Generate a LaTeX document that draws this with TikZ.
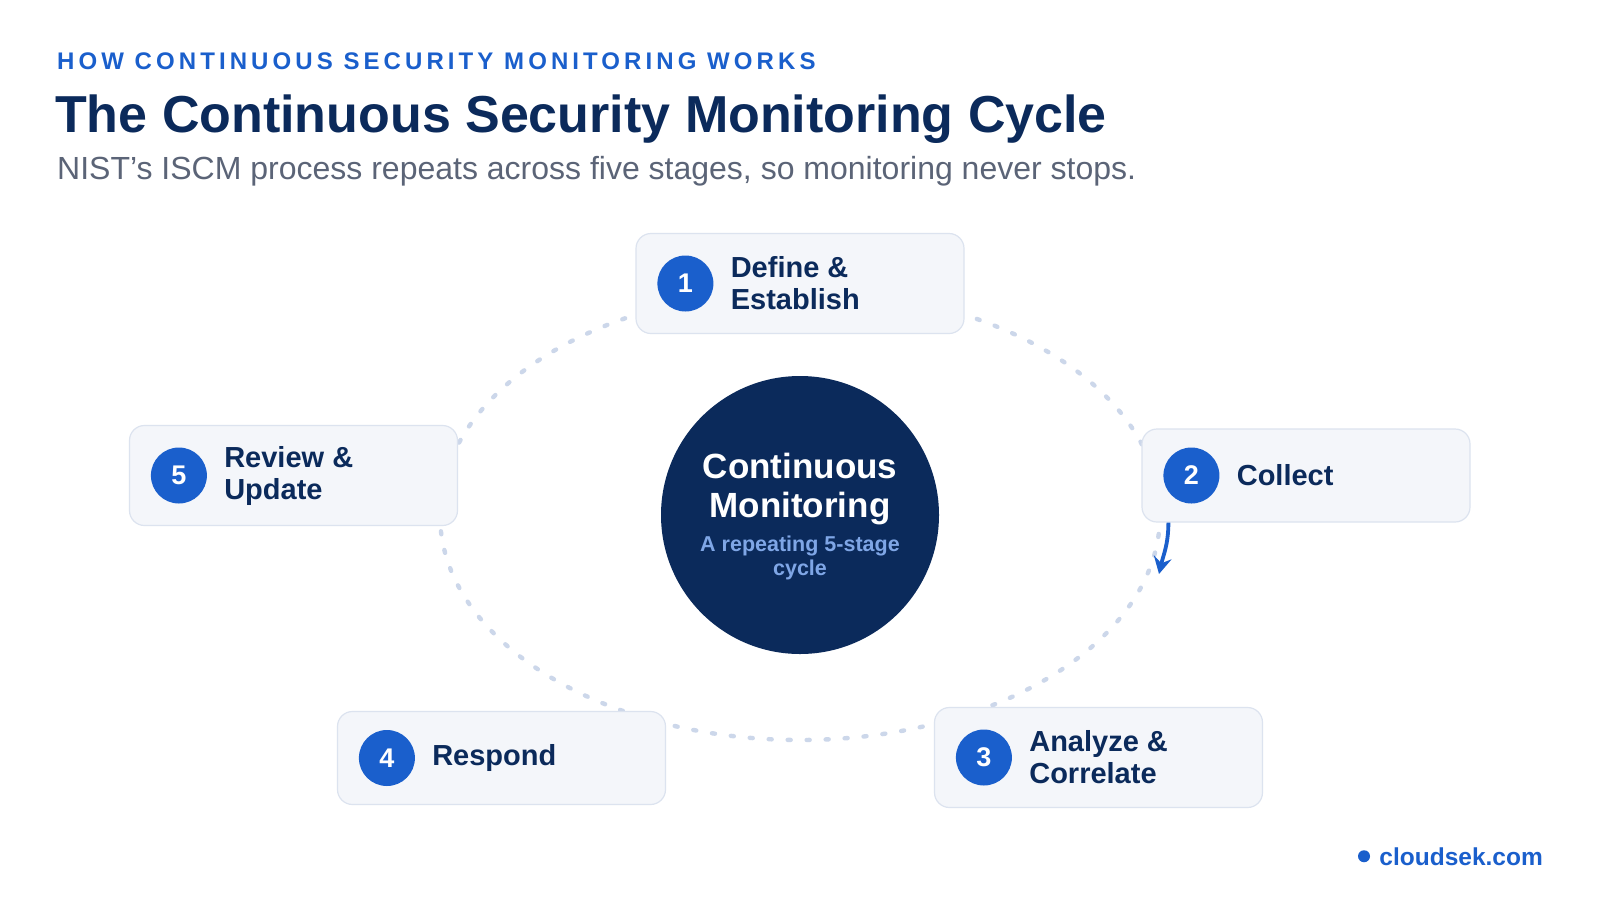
\documentclass[tikz,border=0pt]{standalone}
\usepackage{fontspec}
\setmainfont{Liberation Sans}
\newfontfamily\trackfont[LetterSpace=17]{Liberation Sans}
\usetikzlibrary{positioning,arrows.meta}
\definecolor{navy}{HTML}{0B2A5B}
\definecolor{brand}{HTML}{1A5FCC}
\definecolor{boxfill}{HTML}{F4F6FA}
\definecolor{boxline}{HTML}{DCE3EF}
\definecolor{dotline}{HTML}{CCD7EA}
\definecolor{subgray}{HTML}{5B6477}
\definecolor{hubsub}{HTML}{7FA6E6}
\begin{document}
\begin{tikzpicture}[x=1pt, y=-1pt,
  stagebox/.style={draw=boxline, line width=1.2pt, fill=boxfill, rounded corners=15pt,
    minimum width=328pt, minimum height=#1, inner sep=0pt},
  stagebox/.default=100pt,
  stagenum/.style={circle, fill=brand, minimum size=56pt, inner sep=0pt, text=white,
    font=\fontsize{27}{30}\selectfont\bfseries},
  stagetext/.style={align=left, inner sep=0pt, text=navy,
    font=\fontsize{29}{32}\selectfont\bfseries},
  cycleline/.style={draw=dotline, line width=4.4pt, line cap=round,
    dash pattern=on 3pt off 16pt},
  cyclearrow/.style={draw=brand, line width=3.8pt, -{Stealth[length=17pt, width=18pt, inset=6pt]}}]
  \useasboundingbox[fill=white] (0,0) rectangle (1600,900);

  % header
  \node[anchor=base west, inner sep=0pt, text=brand, font=\fontsize{24}{28}\selectfont\trackfont\bfseries]
    (eyebrow) at (57,69) {HOW CONTINUOUS SECURITY MONITORING WORKS};
  \node[anchor=base west, inner sep=0pt, text=navy, font=\fontsize{52}{60}\selectfont\bfseries]
    (title) at (55,132) {The Continuous Security Monitoring Cycle};
  \node[anchor=base west, inner sep=0pt, text=subgray, font=\fontsize{32}{36}\selectfont]
    (subtitle) at (57,179) {NIST’s ISCM process repeats across five stages, so monitoring never stops.};

  % cycle path and hub
  \node[circle, fill=navy, minimum size=278pt, inner sep=0pt] (hub) at (800,515) {};
  \draw[cycleline] (hub.center) ellipse [x radius=360, y radius=225];
  \node[anchor=base, inner sep=0pt, text=white, font=\fontsize{35}{40}\selectfont\bfseries]
    (hubtop) at (800,478) {Continuous};
  \node[anchor=base, inner sep=0pt, text=white, font=\fontsize{35}{40}\selectfont\bfseries]
    (hubmid) at (800,517) {Monitoring};
  \node[anchor=base, inner sep=0pt, text=hubsub, font=\fontsize{21.5}{25}\selectfont\bfseries]
    (hubsub1) at (800,551) {A repeating 5-stage};
  \node[anchor=base, inner sep=0pt, text=hubsub, font=\fontsize{21.5}{25}\selectfont\bfseries]
    (hubsub2) at (800,575) {cycle};

  % stages
  \node[stagebox] (b1) at (800,283.5) {};
  \node[stagenum] (n1) at ([xshift=50pt]b1.west) {1};
  \node[stagetext, right=17pt of n1] (t1) {Define \&\\Establish};

  \node[stagebox=93pt] (b2) at (1306,475.5) {};
  \node[stagenum] (n2) at ([xshift=50pt]b2.west) {2};
  \node[stagetext, right=17pt of n2] (t2) {Collect};

  \node[stagebox] (b3) at (1098.5,757.5) {};
  \node[stagenum] (n3) at ([xshift=50pt]b3.west) {3};
  \node[stagetext, right=17pt of n3] (t3) {Analyze \&\\Correlate};

  \node[stagebox=93pt] (b4) at (501.5,758) {};
  \node[stagenum] (n4) at ([xshift=50pt]b4.west) {4};
  \node[stagetext, right=17pt of n4] (t4) {Respond};

  \node[stagebox] (b5) at (293.5,475.5) {};
  \node[stagenum] (n5) at ([xshift=50pt]b5.west) {5};
  \node[stagetext, right=17pt of n5] (t5) {Review \&\\Update};

  % direction cue
  \coordinate (tip2) at (1159,574);
  \draw[cyclearrow] ([xshift=27pt]b2.south west) .. controls +(0,22) and +(4,-18) .. (tip2);

  % footer
  \node[anchor=base east, inner sep=0pt, text=brand, font=\fontsize{24.5}{28}\selectfont\bfseries]
    (site) at (1543,865) {cloudsek.com};
  \node[circle, fill=brand, minimum size=12pt, inner sep=0pt, left=9pt of site] (sitedot) {};
\end{tikzpicture}
\end{document}
